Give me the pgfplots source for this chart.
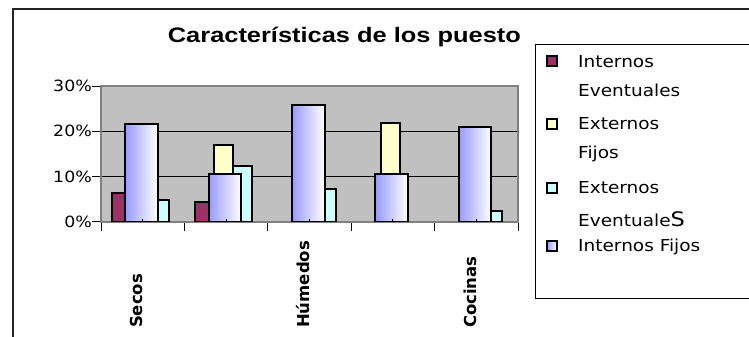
\documentclass[border=0pt]{standalone}
\usepackage{fontspec}
\setmainfont{DejaVu Sans}
\newfontfamily\comic[FakeStretch=1.12]{DejaVu Sans}
\newfontfamily\titlefont[FakeStretch=1.21]{Liberation Sans}
\usepackage{pgfplots}
\pgfplotsset{compat=1.18}

\definecolor{ieventual}{HTML}{993366}
\definecolor{efijo}{HTML}{FFFFCC}
\definecolor{eeventual}{HTML}{CCFFFF}
\definecolor{ifijo}{HTML}{9999FF}
\definecolor{plotbg}{HTML}{C0C0C0}
\definecolor{plotframe}{HTML}{808080}

\newcommand{\catlabel}[1]{\makebox[106pt][l]{#1}}

\pgfplotsset{
  secbar/.style={ybar, bar width=0.39, bar shift=-0.015, draw=black,
    line width=2pt, left color=ifijo, right color=white},
  primbar/.style={ybar, bar width=0.229, draw=black, line width=2pt},
}

\begin{document}
\begin{tikzpicture}[x=1pt,y=1pt]
\useasboundingbox (0,0) rectangle (749,337);

% chart frame
\draw[line width=1.6pt, black!85] (13,-3) -- (13,328) -- (753,328);

% title
\node[anchor=base west, inner sep=0pt,
      font=\titlefont\bfseries\fontsize{21}{21}\selectfont]
  at (167.7,294.3) {Características de los puesto};

\begin{axis}[
  at={(101pt,115.3pt)}, anchor=south west,
  width=417pt, height=135.7pt, scale only axis,
  xmin=-0.5, xmax=4.5, ymin=0, ymax=30,
  axis background/.style={fill=plotbg},
  axis line style={draw=plotframe, line width=1.8pt},
  tick pos=left,
  major tick length=9pt,
  ytick={0,10,20,30},
  yticklabels={0\%,10\%,20\%,30\%},
  ytick align=outside,
  ytick style={black, line width=0.9pt},
  yticklabel style={inner sep=0pt, font=\comic\fontsize{15.5}{15.5}\selectfont},
  ymajorgrids,
  major grid style={black, line width=0.9pt},
  xtick={-0.5,0.5,1.5,2.5,3.5,4.5},
  xticklabels={},
  xtick align=outside,
  xtick style={black, line width=0.9pt},
  extra x ticks={0,2,4},
  extra x tick labels={\catlabel{Secos},\catlabel{Húmedos},\catlabel{Cocinas}},
  extra x tick style={major tick length=0pt,
    xticklabel style={rotate=90, anchor=base east, inner sep=0pt,
      font=\bfseries\fontsize{16.5}{16.5}\selectfont}},
]
% Internos Eventuales
\addplot[primbar, bar shift=-0.259, fill=ieventual] coordinates {(0,6.4) (1,4.3)};
% Externos Fijos
\addplot[primbar, bar shift=-0.030, fill=efijo] coordinates {(1,17.0) (3,21.9)};
% Externos Eventuales
\addplot[primbar, bar shift=0.199, fill=eeventual] coordinates {(0,4.7) (1,12.3) (2,7.3) (4,2.4)};
% Internos Fijos: wider bars in front, one shaded bar per category
\addplot[secbar] coordinates {(0,21.5)};
\addplot[secbar] coordinates {(1,10.5)};
\addplot[secbar] coordinates {(2,25.9)};
\addplot[secbar] coordinates {(3,10.5)};
\addplot[secbar] coordinates {(4,21.0)};
% category centre ticks drawn over the bars
\pgfplotsinvokeforeach{0,...,4}{
  \draw[black, line width=0.9pt] ([yshift=3pt]axis cs:#1,0) -- ([yshift=-6pt]axis cs:#1,0);
}
\end{axis}

% legend
\draw[black, line width=1pt] (753,38) -- (535.5,38) -- (535.5,292.2) -- (753,292.2);
\begin{scope}[line width=2pt]
  \draw[fill=ieventual] (547,270.7) rectangle (557,280.7);
  \draw[fill=efijo]     (547,207.5) rectangle (557,217.5);
  \draw[fill=eeventual] (547,144)   rectangle (557,154);
  \draw[left color=ifijo, right color=white] (547,86) rectangle (557,96);
\end{scope}
\begin{scope}[every node/.style={anchor=base west, inner sep=0pt,
    font=\comic\fontsize{16.5}{16.5}\selectfont}]
  \node at (578,269.8) {Internos};
  \node at (578,240.7) {Eventuales};
  \node at (578,207.7) {Externos};
  \node at (578,178.8) {Fijos};
  \node at (578,143.5) {Externos};
  \node at (578,110.7) {Eventuale{\fontsize{20}{20}\selectfont S}};
  \node at (578,85.5)  {Internos Fijos};
\end{scope}
\end{tikzpicture}
\end{document}
